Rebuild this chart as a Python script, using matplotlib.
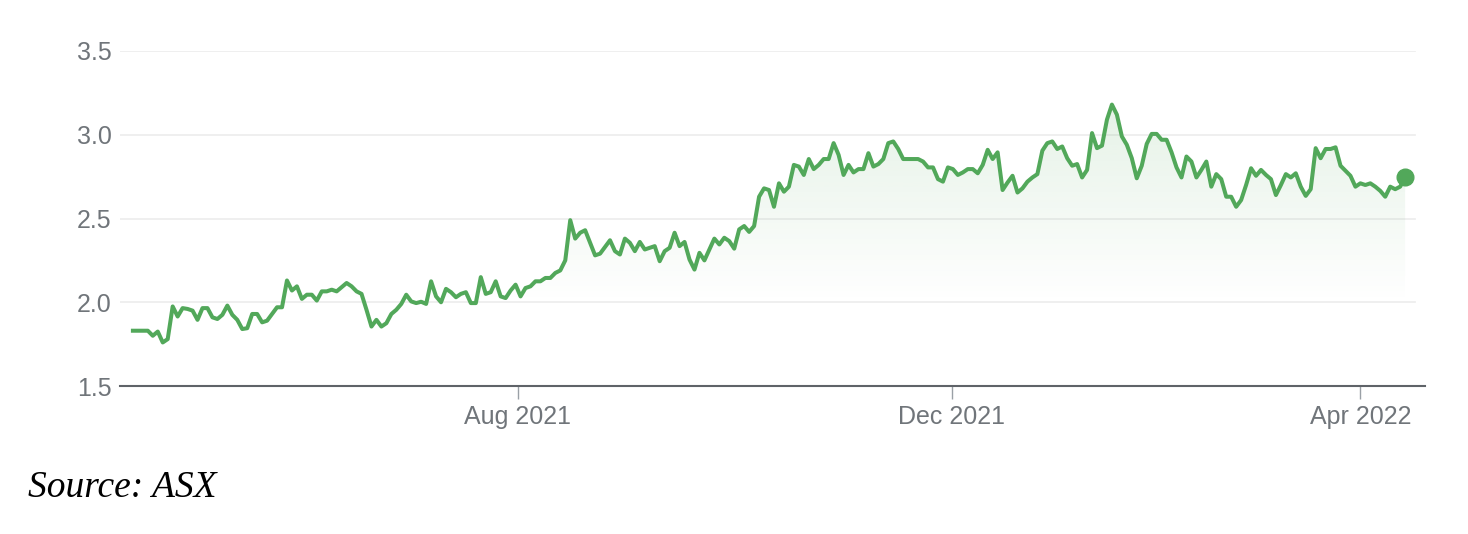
import numpy as np
import matplotlib.pyplot as plt
from matplotlib.colors import to_rgb
from matplotlib.patches import Polygon

# daily closing price (trading days, mid-Apr 2021 -> mid-Apr 2022)
price = [
    1.83, 1.83, 1.83, 1.83, 1.80, 1.825, 1.76, 1.78, 1.975, 1.915,
    1.965, 1.96, 1.95, 1.895, 1.965, 1.965, 1.91, 1.90, 1.925, 1.98,
    1.925, 1.895, 1.84, 1.845, 1.93, 1.93, 1.88, 1.89, 1.93, 1.97,
    1.97, 2.13, 2.07, 2.095, 2.02, 2.045, 2.045, 2.01, 2.065, 2.065,
    2.075, 2.065, 2.09, 2.115,
    2.095, 2.065, 2.05, 1.955, 1.855, 1.895, 1.855, 1.875, 1.93, 1.955,
    1.99, 2.045, 2.005, 1.995, 2.003, 1.99, 2.125, 2.035, 2.0, 2.08,
    2.06, 2.03, 2.05, 2.06, 1.995, 1.995, 2.15, 2.05, 2.06, 2.125,
    2.035, 2.025, 2.07, 2.105, 2.035, 2.085, 2.095, 2.125, 2.125, 2.145,
    2.145, 2.175, 2.19, 2.25,
    2.49, 2.38, 2.415, 2.43, 2.355, 2.28, 2.29, 2.33, 2.37, 2.305,
    2.285, 2.38, 2.355, 2.305, 2.36, 2.315, 2.325, 2.335, 2.245, 2.305,
    2.325, 2.415, 2.335, 2.36, 2.255, 2.195, 2.295, 2.25, 2.315, 2.38,
    2.345, 2.385, 2.365, 2.32, 2.435, 2.455, 2.42, 2.455, 2.63, 2.68,
    2.67, 2.57, 2.71, 2.66, 2.69,
    2.82, 2.81, 2.76, 2.855, 2.795, 2.82, 2.855, 2.855, 2.95, 2.88,
    2.76, 2.82, 2.775, 2.795, 2.795, 2.89, 2.81, 2.825, 2.855, 2.95,
    2.96, 2.915, 2.855, 2.855, 2.855, 2.855, 2.84, 2.805, 2.805, 2.735,
    2.72, 2.805, 2.795, 2.76, 2.775, 2.795, 2.795, 2.77, 2.82, 2.91,
    2.855, 2.895,
    2.67, 2.715, 2.755, 2.655, 2.68, 2.72, 2.745, 2.765, 2.905, 2.95,
    2.96, 2.915, 2.93, 2.86, 2.815, 2.825, 2.745, 2.79, 3.01, 2.92,
    2.935, 3.09, 3.18, 3.12, 2.99, 2.94, 2.86, 2.74, 2.815, 2.945,
    3.005, 3.005, 2.97, 2.97, 2.895, 2.805, 2.745, 2.87, 2.84, 2.745,
    2.79, 2.84,
    2.69, 2.765, 2.735, 2.63, 2.63, 2.57, 2.61, 2.70, 2.80, 2.755,
    2.79, 2.76, 2.735, 2.64, 2.70, 2.765, 2.745, 2.77, 2.69, 2.635,
    2.675, 2.92, 2.86, 2.915, 2.915, 2.925, 2.815, 2.785, 2.755, 2.69,
    2.71, 2.70, 2.71, 2.69, 2.665, 2.63, 2.69, 2.675, 2.69, 2.745,
]

# first trading day of each labelled month, as index into price
tick_pos = [77.4, 164.8, 247]
tick_labels = ["Aug 2021", "Dec 2021", "Apr 2022"]
y_ticks = [1.5, 2.0, 2.5, 3.0, 3.5]

green = "#52a85a"
grey_txt = "#70757a"

x = np.arange(len(price))

fig = plt.figure(figsize=(14.68, 5.34), dpi=100)
ax = fig.add_axes([120 / 1468, 148 / 534, 1305 / 1468, 335 / 534])
ax.set_xlim(-2.6, 260)
ax.set_ylim(1.5, 3.5)

# gridlines
for yv in y_ticks[1:]:
    ax.axhline(yv, xmax=0.992, color="#ececec", lw=1.2, zorder=0)

# gradient fill under the line
ys = np.linspace(1.5, 3.5, 256)
rgba = np.zeros((256, 1, 4))
rgba[..., :3] = to_rgb(green)
rgba[:, 0, 3] = np.clip((ys - 2.0) / 1.2, 0, 1) * 0.15
im = ax.imshow(rgba, extent=[x[0], x[-1], 1.5, 3.5], origin="lower",
               aspect="auto", zorder=1, interpolation="bilinear")
verts = [(x[0], 1.5)] + list(zip(x, price)) + [(x[-1], 1.5)]
poly = Polygon(verts, closed=True, facecolor="none", edgecolor="none")
ax.add_patch(poly)
im.set_clip_path(poly)

ax.plot(x, price, color=green, lw=2.9, zorder=3, solid_joinstyle="round")
ax.plot(x[-1], price[-1], "o", ms=12, color=green, zorder=4, clip_on=False)

for s in ["top", "right", "left"]:
    ax.spines[s].set_visible(False)
ax.spines["bottom"].set_color("#5f6368")
ax.spines["bottom"].set_linewidth(1.5)

ax.set_yticks(y_ticks, labels=[f"{v:.1f}" for v in y_ticks])
ax.set_xticks(tick_pos, labels=tick_labels)
ax.tick_params(axis="y", length=0, pad=6, labelsize=18, labelcolor=grey_txt)
ax.tick_params(axis="x", length=9, width=1, color="#9aa0a6", pad=5,
               labelsize=18, labelcolor=grey_txt)
for lab in ax.get_xticklabels() + ax.get_yticklabels():
    lab.set_family("Liberation Sans")

fig.text(28 / 1468, 1 - 497 / 534, "Source: ASX", family="Liberation Serif",
         style="italic", fontsize=27, va="baseline", ha="left")

fig.savefig("out.png", dpi=100, facecolor="white")
